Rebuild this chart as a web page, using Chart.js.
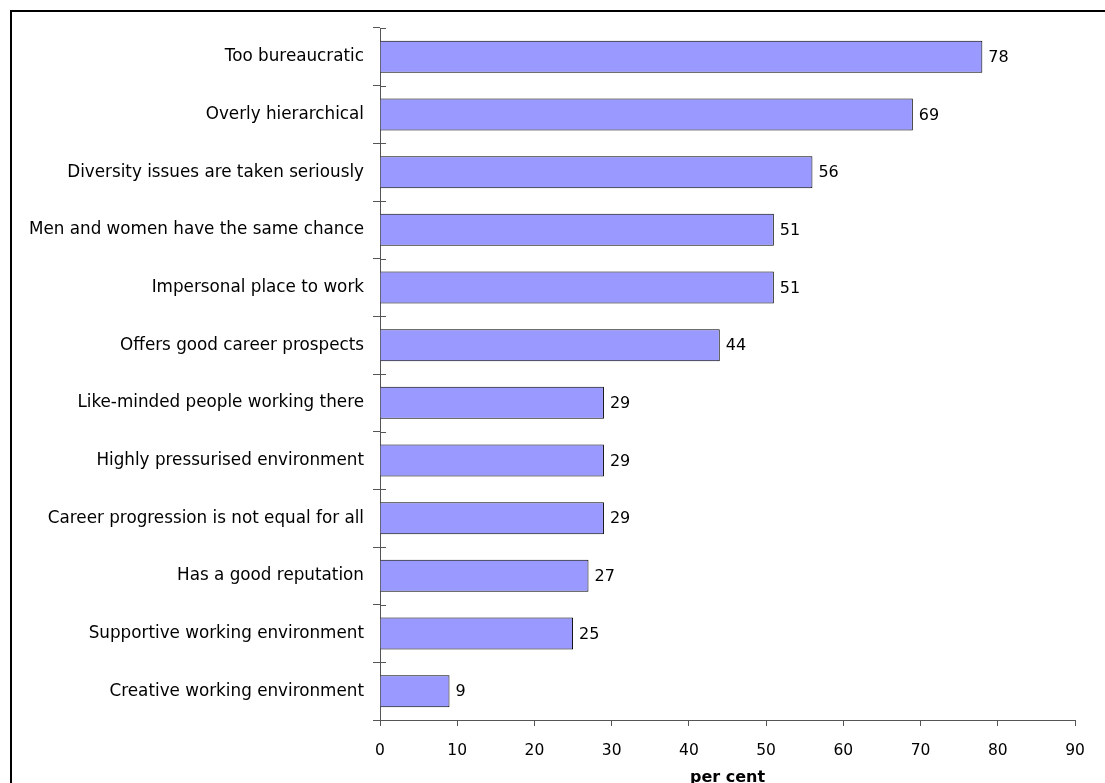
<!DOCTYPE html>
<html>
<head>
<meta charset="utf-8">
<title>Perceptions of the workplace</title>
<script src="https://cdn.jsdelivr.net/npm/chart.js@4/dist/chart.umd.min.js"></script>
<style>
    html, body { margin: 0; padding: 0; background: #fff; overflow: hidden; }
    .frame {
        position: absolute;
        left: 10px;
        top: 10px;
        width: 1200px;
        height: 900px;
        border: 2px solid #000;
    }
    .chart-box {
        position: absolute;
        left: 0;
        top: 0;
    }
</style>
</head>
<body>
<div class="frame"></div>
<div class="chart-box"><canvas id="chart" width="1105" height="800"></canvas></div>
<script>
// Statements and share of respondents agreeing (per cent)
const categories = [
    'Too bureaucratic',
    'Overly hierarchical',
    'Diversity issues are taken seriously',
    'Men and women have the same chance',
    'Impersonal place to work',
    'Offers good career prospects',
    'Like-minded people working there',
    'Highly pressurised environment',
    'Career progression is not equal for all',
    'Has a good reputation',
    'Supportive working environment',
    'Creative working environment'
];
const values = [78, 69, 56, 51, 51, 44, 29, 29, 29, 27, 25, 9];
const xTicks = [0, 10, 20, 30, 40, 50, 60, 70, 80, 90];

const FONT = 'DejaVu Sans';
const AXIS_COLOR = '#555';

// value printed just past the end of each bar
const barLabels = {
    id: 'barLabels',
    afterDatasetsDraw(chart) {
        const ctx = chart.ctx;
        const meta = chart.getDatasetMeta(0);
        ctx.save();
        ctx.font = '16px "' + FONT + '"';
        ctx.fillStyle = '#000';
        ctx.textAlign = 'left';
        ctx.textBaseline = 'middle';
        meta.data.forEach((bar, i) => {
            ctx.fillText(String(values[i]), bar.x + 6, bar.y + 1);
        });
        ctx.restore();
    }
};

// category separators cross the axis line a little into the plot
const crossTicks = {
    id: 'crossTicks',
    afterDraw(chart) {
        const y = chart.scales.y;
        const ctx = chart.ctx;
        const step = (y.bottom - y.top) / categories.length;
        ctx.save();
        ctx.strokeStyle = AXIS_COLOR;
        ctx.lineWidth = 1;
        ctx.beginPath();
        for (let i = 0; i <= categories.length; i++) {
            const py = Math.round(y.top + i * step) + 0.5;
            ctx.moveTo(y.right, py);
            ctx.lineTo(y.right + 6, py);
        }
        ctx.stroke();
        ctx.restore();
    }
};

new Chart(document.getElementById('chart'), {
    type: 'bar',
    data: {
        labels: categories,
        datasets: [{
            data: values,
            backgroundColor: '#9999ff',
            borderColor: '#000',
            borderWidth: 1,
            barPercentage: 0.555,
            categoryPercentage: 1
        }]
    },
    options: {
        indexAxis: 'y',
        responsive: false,
        animation: false,
        layout: { padding: { top: 28, right: 30, left: 0, bottom: 0 } },
        plugins: {
            legend: { display: false },
            tooltip: { enabled: false }
        },
        scales: {
            x: {
                min: 0,
                max: 90,
                afterBuildTicks(scale) {
                    scale.ticks = xTicks.map(v => ({ value: v }));
                },
                afterFit(scale) { scale.height = 80; },
                grid: {
                    drawOnChartArea: false,
                    color: AXIS_COLOR,
                    tickLength: 6,
                    tickColor: AXIS_COLOR
                },
                border: { color: AXIS_COLOR, width: 1 },
                ticks: {
                    color: '#000',
                    padding: 16,
                    font: { family: FONT, size: 15.5 }
                },
                title: {
                    display: true,
                    text: 'per cent',
                    color: '#000',
                    padding: { top: 0, bottom: 13 },
                    font: { family: FONT, size: 16, weight: 'bold' }
                }
            },
            y: {
                afterFit(scale) { scale.width = 380; },
                grid: {
                    drawOnChartArea: false,
                    color: AXIS_COLOR,
                    tickLength: 7,
                    tickColor: AXIS_COLOR
                },
                border: { color: AXIS_COLOR, width: 1 },
                ticks: {
                    color: '#000',
                    padding: 9,
                    font: { family: FONT, size: 16.8 }
                }
            }
        }
    },
    plugins: [barLabels, crossTicks]
});
</script>
</body>
</html>
